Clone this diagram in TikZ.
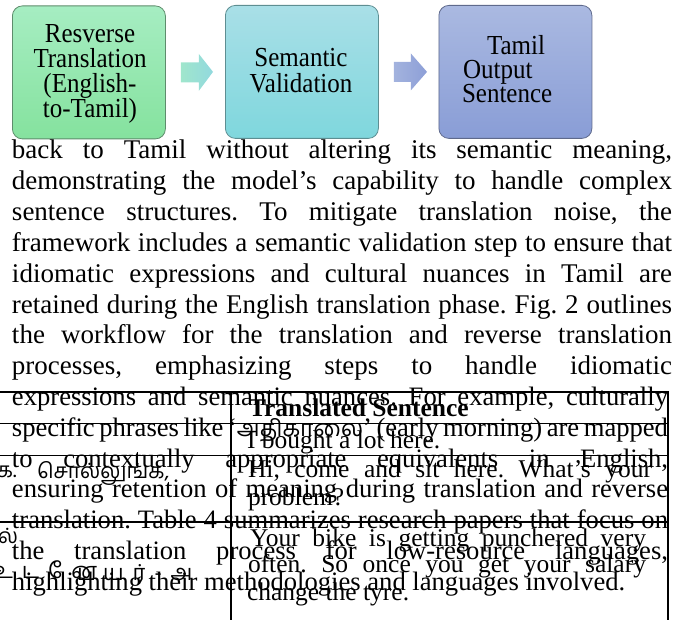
\documentclass[tikz,border=0pt]{standalone}
\usepackage{graphicx}
\usepackage{fontspec}
\setmainfont{Liberation Serif}
\newfontfamily\tamilfont[Script=Tamil]{Hind Madurai}
\newfontfamily\tamilwide[Script=Tamil,LetterSpace=40]{Hind Madurai}
\usetikzlibrary{calc}
\definecolor{gTop}{HTML}{A6EDC2}
\definecolor{gBot}{HTML}{85E29E}
\definecolor{gLine}{HTML}{5E8C6C}
\definecolor{cTop}{HTML}{A9DFE7}
\definecolor{cBot}{HTML}{7FD7DD}
\definecolor{cLine}{HTML}{5E8E92}
\definecolor{bTop}{HTML}{AAB9E1}
\definecolor{bBot}{HTML}{899DD6}
\definecolor{bLine}{HTML}{5F6A8C}
\definecolor{aOneL}{HTML}{A0E6CC}
\definecolor{aOneR}{HTML}{92D9DE}
\definecolor{aTwoL}{HTML}{A3B3DE}
\definecolor{aTwoR}{HTML}{8D9FD7}
\newcommand\jline[2]{\makebox[#1][s]{#2}}
\newcommand\tall[1]{\scalebox{1}[1.1]{#1}}
\frenchspacing
\begin{document}
\begin{tikzpicture}[x=1pt,y=-1pt,
  flowbox/.style={rounded corners=10pt, line width=0.8pt, minimum width=153pt,
    minimum height=133pt, anchor=north west, inner sep=0pt},
  boxtxt/.style={inner sep=0pt, outer sep=0pt, anchor=base, font=\fontsize{25}{25}\selectfont},
  boxtxtl/.style={boxtxt, anchor=base west},
  body/.style={inner sep=0pt, outer sep=0pt, anchor=base west, font=\fontsize{27}{30.8}\selectfont},
  bodylow/.style={body, font=\fontsize{26.6}{30.8}\selectfont},
  cell/.style={inner sep=0pt, outer sep=0pt, anchor=base west, font=\fontsize{25.5}{27}\selectfont},
  tam/.style={inner sep=0pt, outer sep=0pt, anchor=base west, font=\tamilfont\fontsize{21}{27}\selectfont},
  tamwide/.style={tam, font=\tamilwide\fontsize{22}{27}\selectfont},
  rule/.style={line width=1.3pt},
  edge/.style={line width=1.8pt}
]
\useasboundingbox (0,0) rectangle (687,620);
\clip (0,0) rectangle (687,620);

% flow boxes
\node[flowbox, draw=gLine, top color=gTop, bottom color=gBot] (b1) at (12,5.5) {};
\node[flowbox, draw=cLine, top color=cTop, bottom color=cBot] (b2) at (225,5) {};
\node[flowbox, draw=bLine, top color=bTop, bottom color=bBot] (b3) at (438.5,5) {};

\node[boxtxt] (t1a) at (90,43) {\tall{Resverse}};
\node[boxtxt] (t1b) at (90,68) {\tall{Translation}};
\node[boxtxt] (t1c) at (90,93) {\tall{(English-}};
\node[boxtxt] (t1d) at (90,118) {\tall{to-Tamil)}};

\node[boxtxt] (t2a) at (301,67) {\tall{Semantic}};
\node[boxtxt] (t2b) at (301,93) {\tall{Validation}};

\node[boxtxtl] (t3a) at (487,55) {\tall{Tamil}};
\node[boxtxtl] (t3b) at (463,79) {\tall{Output}};
\node[boxtxtl] (t3c) at (462,103) {\tall{Sentence}};

% block arrows between boxes
\path[left color=aOneL, right color=aOneR]
  ($(b1.east)+(15,-10)$) -- ($(b1.east)+(33,-10)$) -- ($(b1.east)+(33,-18.5)$)
  -- ($(b2.west)+(-12,0)$) -- ($(b1.east)+(33,18.5)$) -- ($(b1.east)+(33,10)$)
  -- ($(b1.east)+(15,10)$) -- cycle;
\path[left color=aTwoL, right color=aTwoR]
  ($(b2.east)+(15,-10)$) -- ($(b2.east)+(32,-10)$) -- ($(b2.east)+(32,-18.5)$)
  -- ($(b3.west)+(-11.5,0)$) -- ($(b2.east)+(32,18.5)$) -- ($(b2.east)+(32,10)$)
  -- ($(b2.east)+(15,10)$) -- cycle;

% body text
\node[body] (l1) at (12,159.0) {\jline{660pt}{back to Tamil without altering its semantic meaning,}};
\node[body] (l2) at (12,189.8) {\jline{660pt}{demonstrating the model’s capability to handle complex}};
\node[body] (l3) at (12,220.6) {\jline{660pt}{sentence structures. To mitigate translation noise, the}};
\node[body] (l4) at (12,251.4) {\jline{660pt}{framework includes a semantic validation step to ensure that}};
\node[body] (l5) at (12,282.2) {\jline{660pt}{idiomatic expressions and cultural nuances in Tamil are}};
\node[body] (l6) at (12,313.0) {\jline{660pt}{retained during the English translation phase. Fig. 2 outlines}};
\node[body] (l7) at (12,343.8) {\jline{660pt}{the workflow for the translation and reverse translation}};
\node[body] (l8) at (12,374.6) {\jline{660pt}{processes, emphasizing steps to handle idiomatic}};
\node[bodylow] (l9) at (12,405.4) {\jline{656pt}{expressions and semantic nuances. For example, culturally}};
\node[bodylow] (l10) at (12,436.2) {\jline{656pt}{specific phrases like ‘{\tamilfont\fontsize{23}{27}\selectfont அதிகாலை}’ (early morning) are mapped}};
\node[bodylow] (l11) at (12,467.0) {\jline{656pt}{to contextually appropriate equivalents in English,}};
\node[bodylow] (l12) at (12,497.8) {\jline{656pt}{ensuring retention of meaning during translation and reverse}};
\node[bodylow] (l13) at (12,528.6) {\jline{656pt}{translation. Table 4 summarizes research papers that focus on}};
\node[bodylow] (l14) at (12,559.4) {\jline{656pt}{the translation process for low-resource languages,}};
\node[bodylow] (l15) at (12,590.2) {highlighting their methodologies and languages involved.};

% table rules
\coordinate (r1a) at (0,392);   \coordinate (r1b) at (668,392);
\coordinate (r2a) at (0,423.5); \coordinate (r2b) at (668,423.5);
\coordinate (r3a) at (0,455.5); \coordinate (r3b) at (668,455.5);
\coordinate (r4a) at (0,522);   \coordinate (r4b) at (668,522);
\coordinate (v1a) at (231,392); \coordinate (v1b) at (231,620);
\coordinate (v2a) at (668,391.4); \coordinate (v2b) at (668,620);
\draw[rule] (r1a) -- (r1b);
\draw[rule] (r2a) -- (r2b);
\draw[rule] (r3a) -- (r3b);
\draw[rule] (r4a) -- (r4b);
\draw[rule] (v1a) -- (v1b);
\draw[edge] (v2a) -- (v2b);

% table cells (right column)
\node[cell] (h) at (249,416) {\bfseries Translated Sentence};
\node[cell] (c2) at (247,448) {I bought a lot here.};
\node[cell] (c3a) at (248,477) {\jline{404pt}{Hi, come and sit here. What’s your}};
\node[cell] (c3b) at (248,505) {problem?};
\node[cell] (c4a) at (250,546) {\jline{396pt}{Your bike is getting punchered very}};
\node[cell] (c4b) at (248,572) {\jline{398pt}{often. So once you get your salary}};
\node[cell] (c4c) at (247,600) {change the tyre.};

% table cells (left column, clipped Tamil)
\node[tam] (s3a) at (-3,477) {க.};
\node[tam] (s3b) at (37,478) {சொல்லுங்க,};
\node[tam] (s4a) at (-2,543) {ல்};
\node[tamwide] (s4b) at (-6,578) {உடனே};
\node[tamwide] (s4c) at (77,580) {டயர்-அ};
\end{tikzpicture}
\end{document}
